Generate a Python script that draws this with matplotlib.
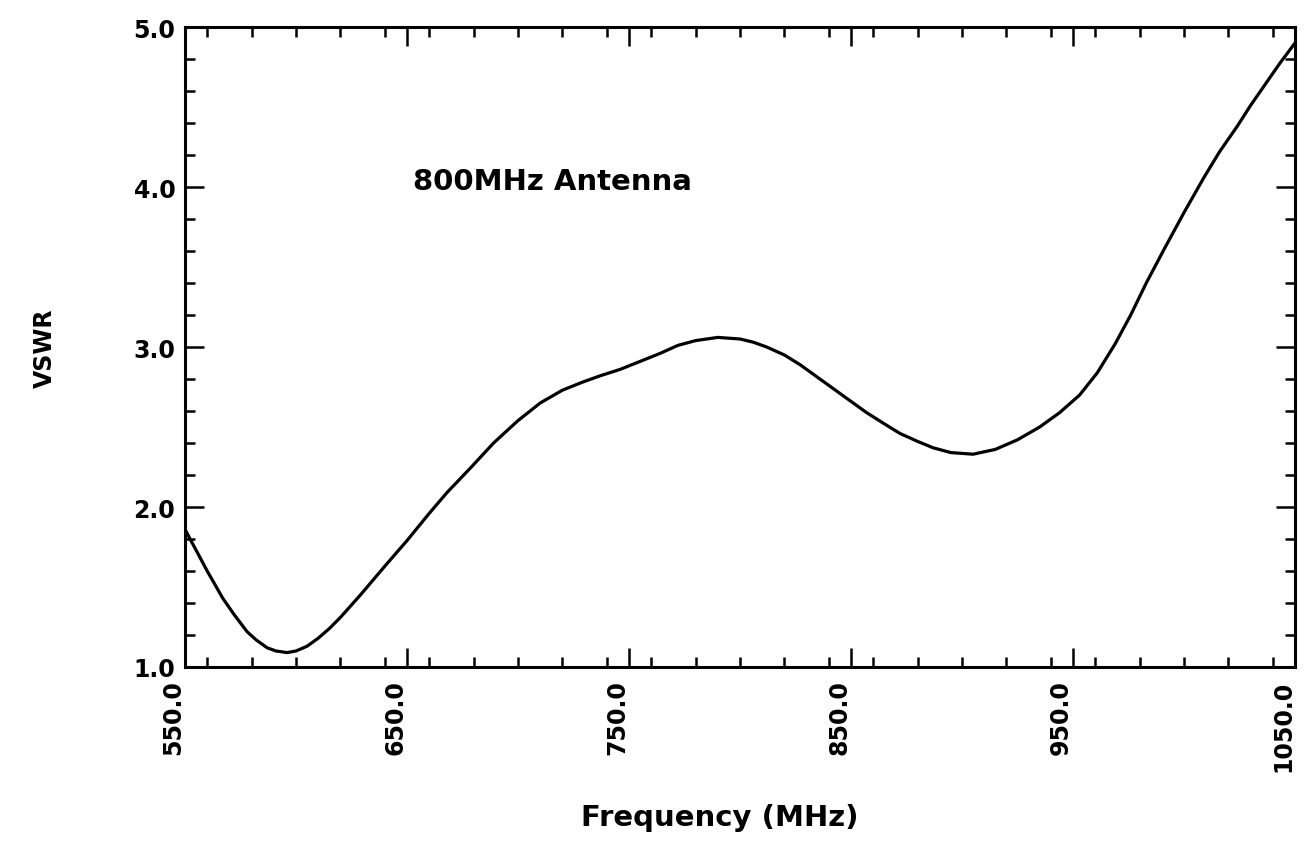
import matplotlib
matplotlib.use("Agg")
import matplotlib.pyplot as plt
from matplotlib.ticker import MultipleLocator

# Data
freq_mhz = [550, 555, 560, 567, 572, 578, 582, 587, 591, 596, 600, 605, 610,
            615, 620, 629, 640, 650, 660, 668, 679, 689, 700, 710, 720, 729,
            737, 746, 755, 764, 772, 780, 790, 800, 806, 812, 820, 827, 835,
            842, 850, 857, 865, 872, 880, 887, 895, 905, 915, 925, 935, 944,
            953, 961, 969, 976, 983, 991, 1000, 1009, 1016, 1024, 1030, 1036,
            1043, 1050]
vswr = [1.86, 1.73, 1.60, 1.43, 1.33, 1.22, 1.17, 1.12, 1.10, 1.09, 1.10, 1.13,
        1.18, 1.24, 1.31, 1.45, 1.63, 1.79, 1.96, 2.09, 2.25, 2.40, 2.54, 2.65,
        2.73, 2.78, 2.82, 2.86, 2.91, 2.96, 3.01, 3.04, 3.06, 3.05, 3.03, 3.00,
        2.95, 2.89, 2.81, 2.74, 2.66, 2.59, 2.52, 2.46, 2.41, 2.37, 2.34, 2.33,
        2.36, 2.42, 2.50, 2.59, 2.70, 2.84, 3.02, 3.20, 3.40, 3.61, 3.84, 4.06,
        4.22, 4.38, 4.51, 4.63, 4.77, 4.90]

x_ticks = [550, 650, 750, 850, 950, 1050]
x_tick_labels = ["550.0", "650.0", "750.0", "850.0", "950.0", "1050.0"]
y_ticks = [1.0, 2.0, 3.0, 4.0, 5.0]
y_tick_labels = ["1.0", "2.0", "3.0", "4.0", "5.0"]

title_text = "800MHz Antenna"
x_label = "Frequency (MHz)"
y_label = "VSWR"

W, H = 1313, 845
fig = plt.figure(figsize=(W / 100, H / 100), dpi=100)
ax = fig.add_axes([185 / W, 1 - 668 / H, 1110 / W, 640 / H])

ax.plot(freq_mhz, vswr, color="black", lw=2.3, solid_capstyle="round",
        solid_joinstyle="round")

ax.set_xlim(550, 1050)
ax.set_ylim(1.0, 5.0)
ax.set_xticks(x_ticks)
ax.set_xticklabels(x_tick_labels, rotation=90, ha="right", va="top",
                   fontsize=17, fontweight="bold", family="DejaVu Sans")
ax.set_yticks(y_ticks)
ax.set_yticklabels(y_tick_labels, fontsize=17, fontweight="bold", family="DejaVu Sans")
ax.xaxis.set_minor_locator(MultipleLocator(20))
ax.yaxis.set_minor_locator(MultipleLocator(0.2))

ax.tick_params(which="both", direction="in", top=True, right=True, width=1.8, color="black")
ax.tick_params(which="major", length=14)
ax.tick_params(which="minor", length=7)
ax.tick_params(axis="y", which="major", pad=7)
ax.tick_params(axis="x", which="major", pad=9)

for s in ax.spines.values():
    s.set_linewidth(2.2)

ax.text((413 - 185) / 1110, (668 - 190) / 640, title_text, transform=ax.transAxes,
        fontsize=21, ha="left", va="baseline", family="DejaVu Sans", fontweight="semibold")

fig.text(45 / W, 1 - 348 / H, y_label, rotation=90, ha="center", va="center",
         fontsize=17, family="DejaVu Sans", fontweight="semibold")
fig.text(720 / W, 1 - 818 / H, x_label, ha="center", va="center",
         fontsize=21, family="DejaVu Sans", fontweight="semibold")

fig.savefig("out.png", dpi=100, facecolor="white")
